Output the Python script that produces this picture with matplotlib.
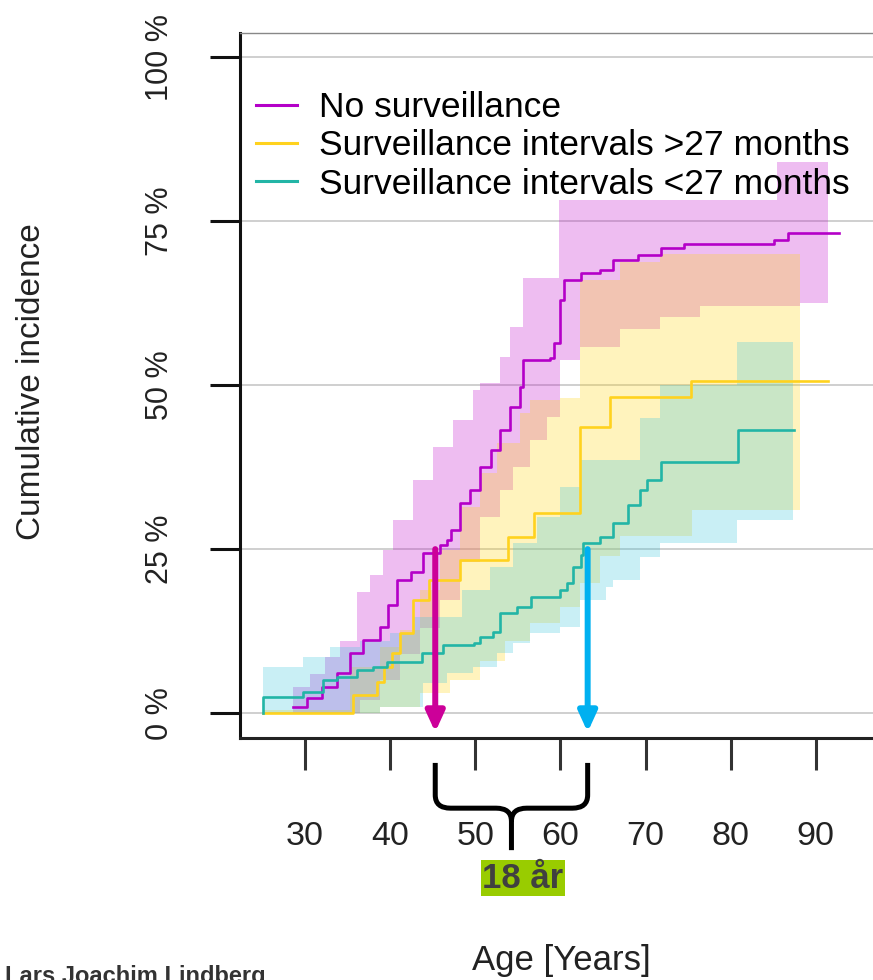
import numpy as np
import matplotlib.pyplot as plt
from matplotlib.path import Path
from matplotlib.patches import PathPatch

# ---- data (age in years, cumulative incidence in %) ----
# No surveillance
nos_age = [28.6, 30.2, 32.0, 33.8, 35.3, 36.8, 38.8, 39.8, 40.8, 42.4, 43.9, 45.9,
           46.7, 47.1, 48.2, 49.4, 50.6, 51.8, 52.9, 54.1, 55.3, 55.6, 58.8, 59.2,
           60.0, 60.4, 62.4, 64.7, 66.2, 69.1, 71.8, 74.5, 85.1, 86.7]
nos_val = [0.9, 2.3, 4.0, 6.1, 9.1, 11.1, 13.1, 16.5, 20.3, 21.5, 24.4, 25.6,
           26.4, 27.9, 32.0, 34.0, 37.5, 40.1, 43.1, 46.6, 49.7, 53.8, 54.1, 56.4,
           63.0, 66.0, 67.1, 67.5, 69.1, 69.8, 70.9, 71.5, 72.1, 73.2]
nos_end = 92.7
nos_up_age = [28.6, 30.6, 32.4, 34.1, 36.1, 37.6, 39.2, 40.3, 42.7, 45.0, 47.4, 49.7,
              50.5, 52.9, 54.1, 55.6, 59.8, 85.4]
nos_up_val = [4, 6, 8.5, 11, 18.4, 21, 24.8, 29.4, 35.5, 40.5, 44.7, 49.2,
              50.3, 54.3, 58.8, 66.3, 78.2, 84]
nos_lo_age = [28.6, 36.5, 38.8, 41.2, 43.5, 45.9, 48.2, 50.5, 52.9, 54.4, 56.4, 58.4,
              59.9, 62.3, 67.0, 71.7, 76.4, 88.1]
nos_lo_val = [0, 2, 5, 9, 13, 17.2, 23, 29.9, 34, 37.5, 41.6, 45.1,
              53.8, 55.8, 58.5, 60.4, 62, 62.5]
nos_band_end = 91.4

# Surveillance intervals >27 months
gt_age = [25.1, 35.6, 38.5, 39.3, 40.2, 41.2, 42.7, 44.6, 48.2, 53.8, 56.9, 62.3, 65.8, 75.3]
gt_val = [0, 2.7, 4.7, 7.0, 9.1, 12.2, 17.2, 20.3, 23.3, 26.8, 30.5, 43.6, 48.2, 50.6]
gt_end = 91.4
gt_up_age = [25.1, 35.3, 38.8, 41.2, 43.5, 45.9, 48.2, 50.5, 52.5, 55.2, 56.4, 59.9, 62.3, 67.0, 71.7]
gt_up_val = [0.5, 7, 10, 12.7, 18.7, 24.8, 31.4, 36.6, 41.2, 45.7, 47.7, 48, 66, 68.8, 70]
gt_lo_age = [25.1, 38.8, 43.5, 47.0, 50.5, 53.5, 56.4, 59.9, 62.3, 64.6, 67.0, 75.5]
gt_lo_val = [0, 1, 3, 5, 8, 11, 13.7, 16.2, 19.8, 24, 27, 31]
gt_band_end = 88.1

# Surveillance intervals <27 months
lt_age = [25.1, 25.1, 29.8, 32.1, 33.8, 36.1, 38.0, 39.6, 43.8, 46.2, 49.8, 50.6, 52.1,
          52.9, 54.9, 56.5, 60.0, 60.8, 61.5, 62.4, 62.7, 64.7, 66.2, 67.9, 69.4,
          70.2, 71.8, 80.9]
lt_val = [0, 2.4, 3.2, 5.0, 5.5, 6.6, 7.0, 7.8, 9.1, 10.4, 10.7, 11.6, 12.3,
          15.2, 16.2, 17.7, 18.7, 19.8, 22.3, 24.1, 25.9, 26.8, 29.0, 31.7, 34.0,
          35.5, 38.3, 43.1]
lt_end = 87.4
lt_up_age = [25.1, 29.8, 32.9, 36.5, 40.0, 42.7, 48.5, 51.7, 54.4, 57.2, 59.9, 62.3, 69.3, 71.7, 80.7]
lt_up_val = [7, 8.5, 10, 11, 12.2, 14.6, 18.7, 22.3, 25.9, 29.9, 34.5, 38.6, 45, 50, 56.6]
lt_lo_age = [25.1, 38.8, 43.9, 46.7, 49.7, 52.5, 54.4, 56.4, 59.9, 62.3, 65.4, 66.2, 69.3, 71.7, 80.7]
lt_lo_val = [0, 1, 4.6, 6.1, 7, 9.1, 10.7, 12.2, 13.1, 17.2, 19.2, 20.3, 23.8, 25.9, 29.4]
lt_band_end = 87.3

labels = ['No surveillance', 'Surveillance intervals >27 months', 'Surveillance intervals <27 months']
line_cols = ['#B400C8', '#FFD21E', '#22B5A6']
band_cols = ['#C312CD', '#FFD712', '#3EC6DE']

x_ticks = [30, 40, 50, 60, 70, 80, 90]
y_ticks = [0, 25, 50, 75, 100]
y_ticklabels = ['0 %', '25 %', '50 %', '75 %', '100 %']

arrow_ages = [45.3, 63.2]   # where the 25 % level is reached
arrow_cols = ['#CC0099', '#00B0F0']
gap_text = '18 år'

W, H = 873, 980
plt.rcParams['font.family'] = ['Liberation Sans', 'DejaVu Sans']

fig = plt.figure(figsize=(W / 100, H / 100), dpi=100)
ax = fig.add_axes([240 / W, 1 - 738 / H, 661 / W, 705 / H])
ax.set_xlim(22.37, 100)
ax.set_ylim(-3.8, 103.7)


def stairs(xs, ys, x_end):
    px, py = [], []
    for i in range(len(xs)):
        x_next = xs[i + 1] if i + 1 < len(xs) else x_end
        px += [xs[i], x_next]
        py += [ys[i], ys[i]]
    return px, py


def band(ua, uv, la, lv, end, col):
    ux, uy = stairs(ua, uv, end)
    lx, ly = stairs(la, lv, end)
    ax.fill(ux + lx[::-1], uy + ly[::-1], color=col, alpha=0.28, lw=0, zorder=1)


band(nos_up_age, nos_up_val, nos_lo_age, nos_lo_val, nos_band_end, band_cols[0])
band(gt_up_age, gt_up_val, gt_lo_age, gt_lo_val, gt_band_end, band_cols[1])
band(lt_up_age, lt_up_val, lt_lo_age, lt_lo_val, lt_band_end, band_cols[2])

for a, v, e, c, lab in [(nos_age, nos_val, nos_end, line_cols[0], labels[0]),
                        (gt_age, gt_val, gt_end, line_cols[1], labels[1]),
                        (lt_age, lt_val, lt_end, line_cols[2], labels[2])]:
    ax.step(a + [e], v + [v[-1]], where='post', color=c, lw=1.9, zorder=3, label=lab)

# grid + frame
for yv in y_ticks:
    ax.axhline(yv, color='#CFCFCF', lw=1.4, zorder=0.5)
ax.spines['left'].set_linewidth(2.2)
ax.spines['bottom'].set_linewidth(2.2)
ax.spines['left'].set_color('#111111')
ax.spines['bottom'].set_color('#222222')
ax.spines['top'].set_linewidth(1.0)
ax.spines['top'].set_color('#888888')
ax.spines['right'].set_linewidth(1.0)
ax.spines['right'].set_color('#888888')

ax.set_xticks(x_ticks)
ax.set_xticklabels([str(t) for t in x_ticks])
ax.set_yticks(y_ticks)
ax.set_yticklabels(y_ticklabels, rotation=90, va='center')
ax.tick_params(axis='x', length=23, width=2.2, color='#333333', pad=37,
               labelsize=24.5, labelcolor='#222222')
ax.tick_params(axis='y', length=21.6, width=2.2, color='#111111', pad=25,
               labelsize=22, labelcolor='#222222')

leg = ax.legend(loc='upper left', bbox_to_anchor=(256 / W, 1 - 91 / H),
                bbox_transform=fig.transFigure, frameon=False, fontsize=25.5,
                handlelength=1.15, handletextpad=0.62, labelspacing=0.15,
                borderpad=0, borderaxespad=0)
for h in leg.get_lines():
    h.set_linewidth(2.2)

# arrows down from the 25 % level
for xa, ca in zip(arrow_ages, arrow_cols):
    ax.annotate('', xy=(xa, -2.9), xytext=(xa, 25.0),
                arrowprops=dict(arrowstyle='-|>,head_length=12,head_width=5.5',
                                mutation_scale=1, color=ca, lw=4.3,
                                shrinkA=0, shrinkB=0), zorder=4)

# curly brace under the axis
left, right = arrow_ages
mid = (left + right) / 2
top, bar, tip = -7.6, -14.5, -20.9
rx, ry = 1.8, 2.0
verts = [(left, top), (left, bar + ry), (left, bar), (left + rx, bar),
         (mid - rx, bar), (mid, bar), (mid, bar - ry), (mid, tip),
         (right, top), (right, bar + ry), (right, bar), (right - rx, bar),
         (mid + rx, bar), (mid, bar), (mid, bar - ry)]
codes = [Path.MOVETO, Path.LINETO, Path.CURVE3, Path.CURVE3,
         Path.LINETO, Path.CURVE3, Path.CURVE3, Path.LINETO,
         Path.MOVETO, Path.LINETO, Path.CURVE3, Path.CURVE3,
         Path.LINETO, Path.CURVE3, Path.CURVE3]
ax.add_patch(PathPatch(Path(verts, codes), fill=False, lw=3.6, color='black',
                       clip_on=False, zorder=5))

fig.text(523 / W, 1 - 878 / H, gap_text, fontsize=25, fontweight='bold',
         color='#404040', ha='center', va='center',
         bbox=dict(boxstyle='square,pad=0.05', fc='#99CC00', ec='none'))

fig.text(32 / W, 1 - 382 / H, 'Cumulative incidence', rotation=90, fontsize=24,
         color='#222222', ha='center', va='center')
fig.text(561 / W, 1 - 960 / H, 'Age [Years]', fontsize=25, color='#222222',
         ha='center', va='center')
fig.text(5 / W, 1 - 965 / H, 'Lars Joachim Lindberg', fontsize=17, fontweight='bold',
         color='#333333', ha='left', va='top')

fig.savefig('out.png', dpi=100)
